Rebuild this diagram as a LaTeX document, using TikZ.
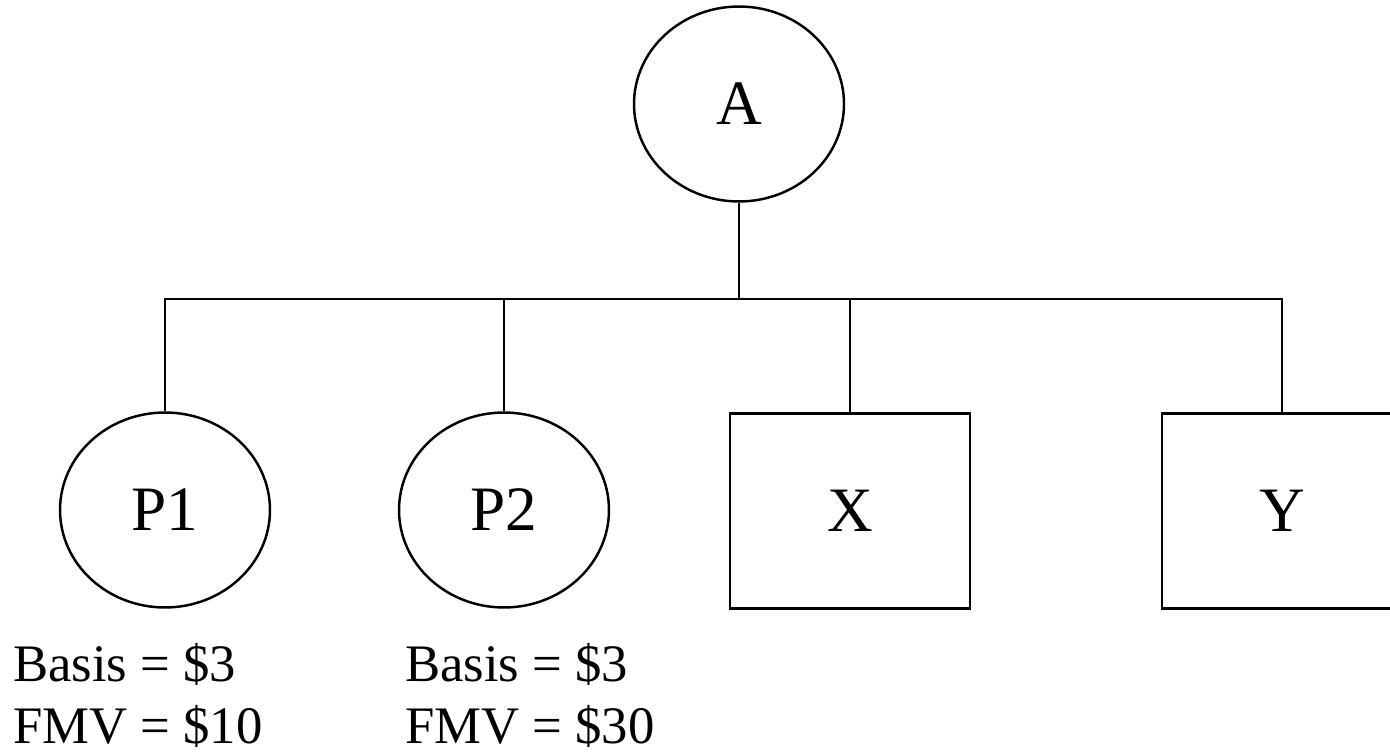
\documentclass[tikz,border=0pt]{standalone}
\usepackage{fontspec}
\setmainfont{Liberation Serif}
\usetikzlibrary{shapes.geometric}

\tikzset{
  entity/.style={draw, ellipse, minimum width=4.2cm, minimum height=3.9cm,
    font=\fontsize{36}{40}\selectfont},
  corp/.style={draw, rectangle, minimum width=4.8cm, minimum height=3.9cm,
    font=\fontsize{36}{40}\selectfont},
  value/.style={anchor=base west, inner sep=0pt,
    font=\fontsize{30}{35}\selectfont}
}

\begin{document}
\begin{tikzpicture}[x=0.02cm, y=-0.02cm, line width=1.4pt]
\useasboundingbox (0,0) rectangle (1390,756);
\clip (0,0) rectangle (1390,756);

\node[entity] (A) at (739,104) {A};
\node[entity] (P1) at (165,510) {P1};
\node[entity] (P2) at (504,510) {P2};
\node[corp] (X) at (850,511) {X};
\node[corp] (Y) at (1282,511) {Y};

\coordinate (bus) at (739,299);
\draw (A) -- (bus);
\draw (P1.north) |- (bus) -| (Y.north);
\draw (P2.north) -- (P2.north |- bus);
\draw (X.north) -- (X.north |- bus);

\node[value] (basisP1) at (12,682) {Basis = \$3};
\node[value] (fmvP1) at (12,744) {FMV = \$10};
\node[value] (basisP2) at (404,682) {Basis = \$3};
\node[value] (fmvP2) at (404,744) {FMV = \$30};
\end{tikzpicture}
\end{document}
